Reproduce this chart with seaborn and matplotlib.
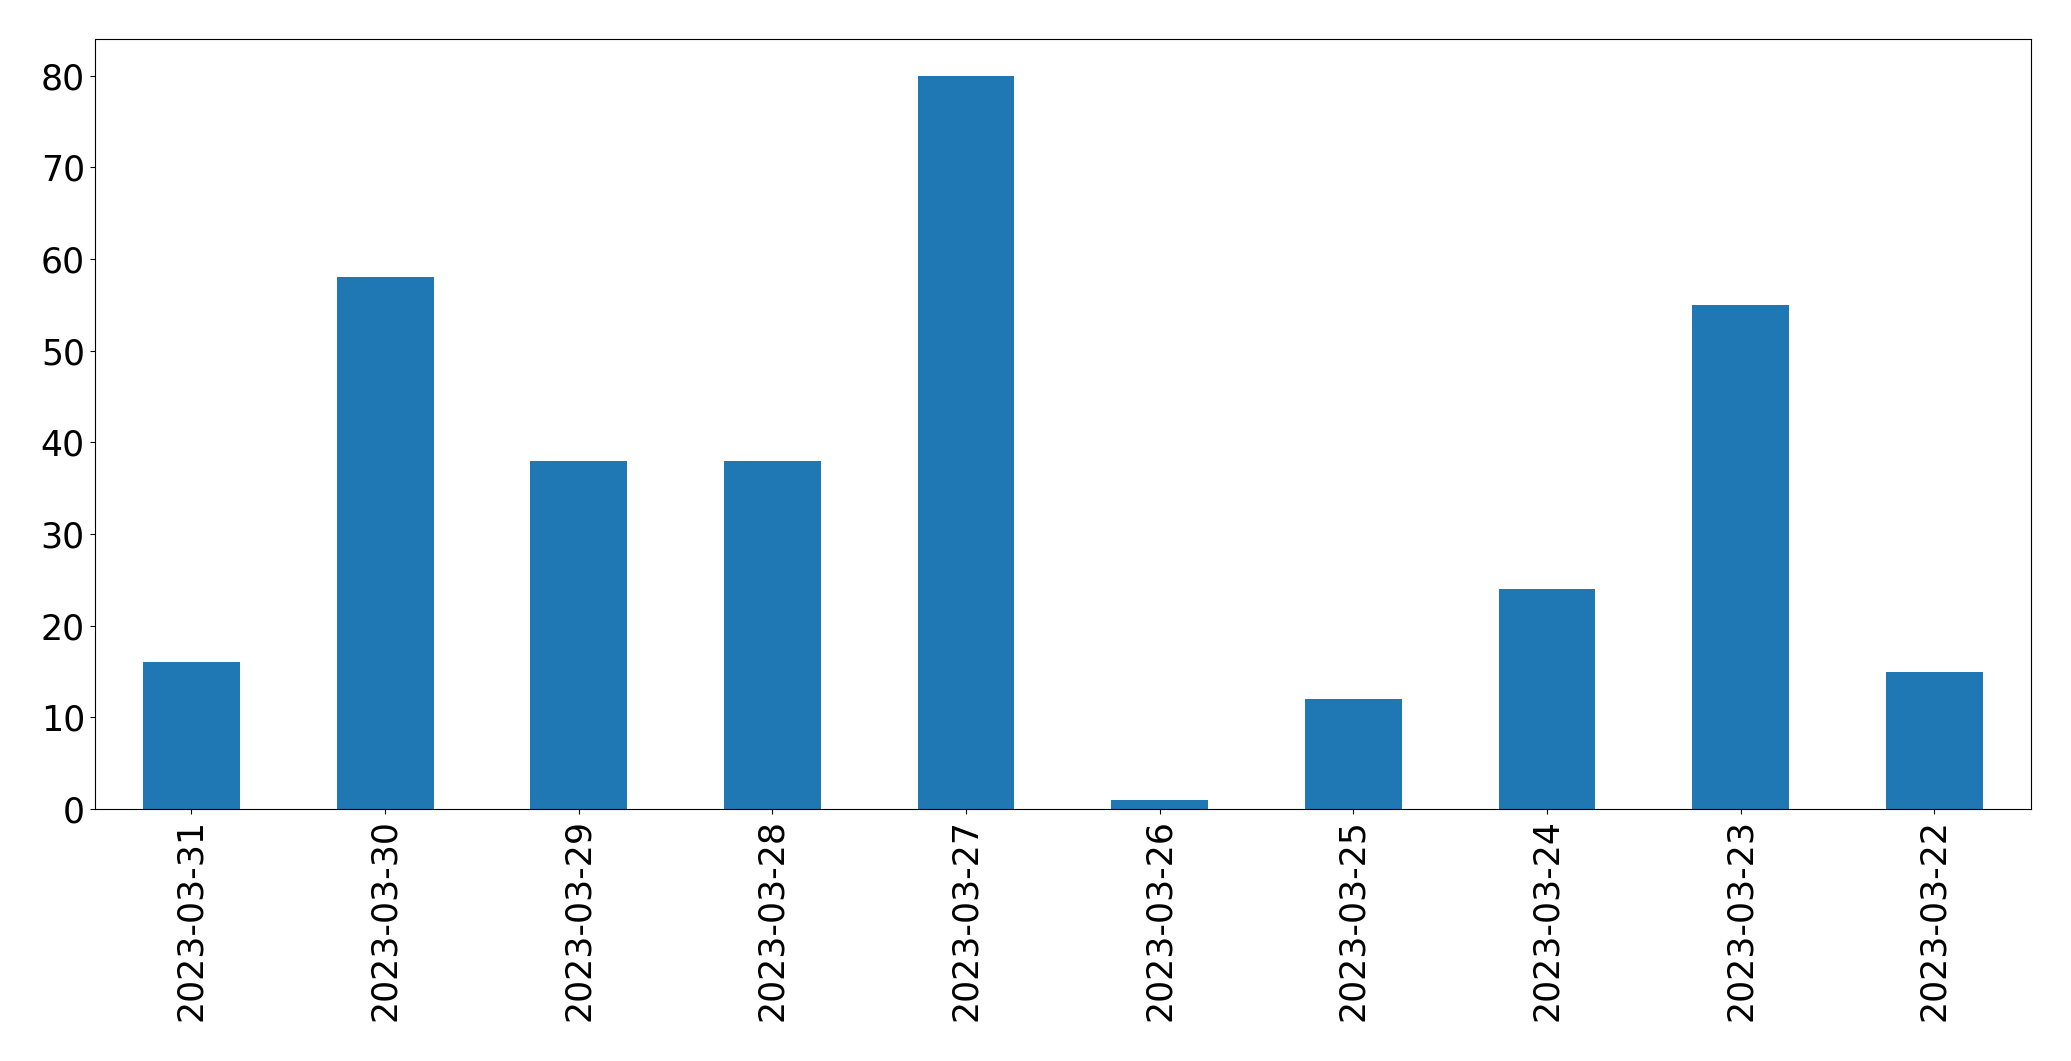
import matplotlib
matplotlib.use("Agg")
import matplotlib.pyplot as plt
import seaborn as sns
import pandas as pd

# Data
dates = ["2023-03-31", "2023-03-30", "2023-03-29", "2023-03-28", "2023-03-27",
         "2023-03-26", "2023-03-25", "2023-03-24", "2023-03-23", "2023-03-22"]
counts = [16, 58, 38, 38, 80, 1, 12, 24, 55, 15]

df = pd.DataFrame({"date": dates, "count": counts})

fig, ax = plt.subplots(figsize=(20.71, 10.61), dpi=100)
sns.barplot(data=df, x="date", y="count", order=dates, color="#1f77b4",
            saturation=1, width=0.5, ax=ax)

ax.set_xlim(-0.5, len(dates) - 0.5)
ax.set_ylim(0, 84)
ax.set_xlabel("")
ax.set_ylabel("")
ax.tick_params(axis="both", labelsize=25)
plt.setp(ax.get_xticklabels(), rotation=90)

plt.subplots_adjust(left=0.0457, right=0.9807, top=0.9632, bottom=0.2375)
plt.savefig("out.png", dpi=100)
